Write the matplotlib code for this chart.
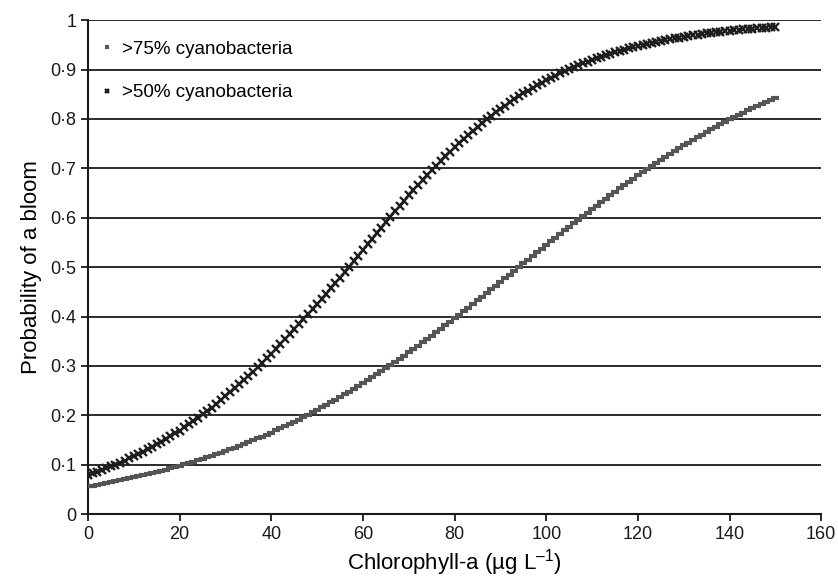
import matplotlib
matplotlib.use("Agg")
import matplotlib.pyplot as plt

plt.rcParams['font.family'] = ['Liberation Sans', 'DejaVu Sans']
plt.rcParams['mathtext.fontset'] = 'custom'
plt.rcParams['mathtext.rm'] = 'Liberation Sans'
plt.rcParams['mathtext.it'] = 'Liberation Sans'

# chlorophyll-a, one point per ug/L
chl = list(range(0, 151))

# >75% cyanobacteria (grey dashes)
p75 = [
    0.0562, 0.0579, 0.0595, 0.0612, 0.0630, 0.0648, 0.0666, 0.0685, 0.0704, 0.0724,
    0.0745, 0.0766, 0.0787, 0.0809, 0.0832, 0.0855, 0.0879, 0.0903, 0.0928, 0.0953,
    0.0980, 0.1007, 0.1034, 0.1062, 0.1091, 0.1120, 0.1151, 0.1182, 0.1213, 0.1245,
    0.1279, 0.1312, 0.1347, 0.1382, 0.1418, 0.1455, 0.1493, 0.1532, 0.1571, 0.1611,
    0.1652, 0.1694, 0.1736, 0.1780, 0.1824, 0.1869, 0.1915, 0.1962, 0.2010, 0.2059,
    0.2108, 0.2159, 0.2210, 0.2262, 0.2315, 0.2369, 0.2423, 0.2479, 0.2535, 0.2592,
    0.2650, 0.2709, 0.2769, 0.2829, 0.2890, 0.2952, 0.3015, 0.3079, 0.3143, 0.3208,
    0.3274, 0.3340, 0.3407, 0.3475, 0.3543, 0.3612, 0.3682, 0.3752, 0.3822, 0.3894,
    0.3965, 0.4037, 0.4110, 0.4182, 0.4256, 0.4329, 0.4403, 0.4477, 0.4551, 0.4626,
    0.4700, 0.4775, 0.4850, 0.4925, 0.5000, 0.5075, 0.5150, 0.5225, 0.5300, 0.5374,
    0.5449, 0.5523, 0.5597, 0.5671, 0.5744, 0.5818, 0.5890, 0.5963, 0.6035, 0.6106,
    0.6178, 0.6248, 0.6318, 0.6388, 0.6457, 0.6525, 0.6593, 0.6660, 0.6726, 0.6792,
    0.6857, 0.6921, 0.6985, 0.7048, 0.7110, 0.7171, 0.7231, 0.7291, 0.7350, 0.7408,
    0.7465, 0.7521, 0.7577, 0.7631, 0.7685, 0.7738, 0.7790, 0.7841, 0.7892, 0.7941,
    0.7990, 0.8038, 0.8085, 0.8131, 0.8176, 0.8220, 0.8264, 0.8306, 0.8348, 0.8389,
    0.8429,
]

# >50% cyanobacteria (black crosses)
p50 = [
    0.0794, 0.0826, 0.0859, 0.0893, 0.0929, 0.0966, 0.1004, 0.1043, 0.1084, 0.1126,
    0.1170, 0.1215, 0.1262, 0.1310, 0.1360, 0.1411, 0.1464, 0.1519, 0.1575, 0.1633,
    0.1692, 0.1754, 0.1817, 0.1882, 0.1948, 0.2017, 0.2086, 0.2158, 0.2232, 0.2308,
    0.2385, 0.2464, 0.2545, 0.2627, 0.2711, 0.2797, 0.2884, 0.2973, 0.3064, 0.3156,
    0.3250, 0.3345, 0.3441, 0.3539, 0.3638, 0.3738, 0.3839, 0.3941, 0.4044, 0.4148,
    0.4253, 0.4359, 0.4464, 0.4571, 0.4678, 0.4785, 0.4893, 0.5000, 0.5115, 0.5230,
    0.5344, 0.5459, 0.5572, 0.5686, 0.5798, 0.5910, 0.6020, 0.6130, 0.6239, 0.6346,
    0.6452, 0.6557, 0.6660, 0.6761, 0.6861, 0.6959, 0.7056, 0.7150, 0.7243, 0.7334,
    0.7423, 0.7510, 0.7595, 0.7678, 0.7759, 0.7838, 0.7915, 0.7990, 0.8063, 0.8134,
    0.8202, 0.8269, 0.8334, 0.8397, 0.8458, 0.8517, 0.8574, 0.8629, 0.8683, 0.8735,
    0.8785, 0.8833, 0.8880, 0.8925, 0.8968, 0.9010, 0.9050, 0.9089, 0.9126, 0.9162,
    0.9197, 0.9230, 0.9262, 0.9293, 0.9323, 0.9351, 0.9379, 0.9405, 0.9430, 0.9454,
    0.9477, 0.9500, 0.9521, 0.9542, 0.9561, 0.9580, 0.9598, 0.9616, 0.9632, 0.9648,
    0.9664, 0.9678, 0.9692, 0.9706, 0.9719, 0.9731, 0.9743, 0.9754, 0.9765, 0.9775,
    0.9785, 0.9794, 0.9804, 0.9812, 0.9820, 0.9828, 0.9836, 0.9843, 0.9850, 0.9857,
    0.9863,
]

xticks = [0, 20, 40, 60, 80, 100, 120, 140, 160]
yticks = [0, 0.1, 0.2, 0.3, 0.4, 0.5, 0.6, 0.7, 0.8, 0.9, 1.0]
ylabels = ["0", "0\u00b71", "0\u00b72", "0\u00b73", "0\u00b74", "0\u00b75",
           "0\u00b76", "0\u00b77", "0\u00b78", "0\u00b79", "1"]

fig, ax = plt.subplots(figsize=(8.38, 5.77), dpi=100)
fig.subplots_adjust(left=0.105, right=0.98, top=0.965, bottom=0.109)

for y in yticks[1:]:
    ax.axhline(y, color="#1a1a1a", lw=1.3, zorder=1)

ax.plot(chl, p75, ls="none", marker="_", ms=5.5, mew=3, color="#555555",
        label=">75% cyanobacteria", zorder=3)
ax.plot(chl, p50, ls="none", marker="x", ms=5.5, mew=1.7, color="#1e1e1e",
        label=">50% cyanobacteria", zorder=4)

ax.set_xlim(0, 160)
ax.set_ylim(0, 1)
ax.set_xticks(xticks)
ax.set_yticks(yticks)
ax.set_yticklabels(ylabels)
ax.tick_params(axis="both", direction="out", length=5, width=1.3,
               labelsize=13, colors="#1a1a1a")
for s in ["top", "right"]:
    ax.spines[s].set_visible(False)
for s in ["left", "bottom"]:
    ax.spines[s].set_linewidth(1.5)
    ax.spines[s].set_color("#1a1a1a")

ax.set_xlabel("Chlorophyll-a (\u00b5g L$^{\u20131}$)", fontsize=16, labelpad=3)
ax.set_ylabel("Probability of a bloom", fontsize=16, labelpad=6)

leg = ax.legend(loc="upper left", frameon=False, fontsize=13.5, handlelength=0.6,
                handletextpad=0.5, labelspacing=1.4, borderaxespad=0.3,
                bbox_to_anchor=(0.0, 0.985), markerscale=0.6)

fig.savefig("out.png", dpi=100)
